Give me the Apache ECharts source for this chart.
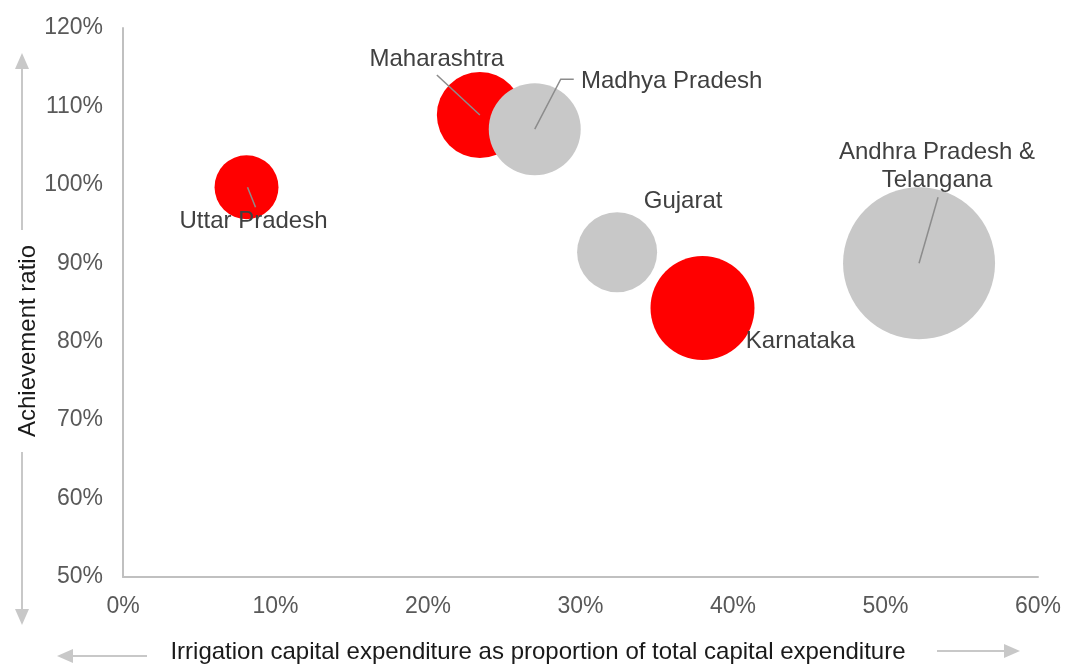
<!DOCTYPE html>
<html>
<head>
<meta charset="utf-8">
<title>Irrigation capex vs achievement ratio</title>
<script src="https://cdn.jsdelivr.net/npm/echarts@6/dist/echarts.min.js"></script>
<style>
  html, body { margin: 0; padding: 0; background: #fff; }
  #chart { width: 1077px; height: 664px; }
</style>
</head>
<body>
<div id="chart"></div>
<script>
// states, x = irrigation capex share (%), y = achievement ratio (%), size = relative bubble size
const states = ['Uttar Pradesh', 'Maharashtra', 'Madhya Pradesh', 'Gujarat', 'Karnataka', 'Andhra Pradesh &\nTelangana']
const capexShare = [8.1, 23.4, 27.0, 32.4, 38.0, 52.2]
const achievement = [99.7, 108.9, 107.1, 91.4, 84.3, 90.0]
const bubbleSize = [17.7, 32.0, 36.6, 27.7, 46.8, 100]
const highlighted = [true, true, false, false, true, false]

const xTicks = ['0%', '10%', '20%', '30%', '40%', '50%', '60%']
const yTicks = ['50%', '60%', '70%', '80%', '90%', '100%', '110%', '120%']

const RED = '#ff0000'
const GREY = '#c8c8c8'
const FONT = 'Liberation Sans, Arial, sans-serif'

// label offsets from bubble centre (px) and leader line points (px, relative to centre)
const labelStyle = {
  'Uttar Pradesh': { offset: [7, 34], leader: [[1, 0], [9, 20]] },
  'Maharashtra': { offset: [-43, -56], leader: [[0, 0], [-43, -40]] },
  'Madhya Pradesh': { offset: [137, -48], leader: [[0, 0], [26, -50], [39, -50]] },
  'Gujarat': { offset: [66, -51], leader: null },
  'Karnataka': { offset: [98, 33], leader: null },
  'Andhra Pradesh &\nTelangana': { offset: [18, -97], leader: [[0, 0], [19, -66]] }
}

const bubbleData = states.map((name, i) => ({
  name,
  value: [capexShare[i], achievement[i], bubbleSize[i]],
  itemStyle: { color: highlighted[i] ? RED : GREY, opacity: 1 },
  label: { offset: labelStyle[name].offset }
}))

const chart = echarts.init(document.getElementById('chart'))

chart.setOption({
  animation: false,
  backgroundColor: '#fff',
  textStyle: { fontFamily: FONT },
  grid: { left: 123, right: 39, top: 28, bottom: 87 },
  xAxis: {
    type: 'value',
    min: 0,
    max: 60,
    interval: 10,
    splitLine: { show: false },
    axisTick: { show: false },
    axisLine: { show: true, lineStyle: { color: '#c0c0c0', width: 2 } },
    axisLabel: {
      margin: 18,
      fontSize: 23,
      color: '#595959',
      formatter: (v) => xTicks[v / 10]
    }
  },
  yAxis: {
    type: 'value',
    min: 50,
    max: 120,
    interval: 10,
    splitLine: { show: false },
    axisTick: { show: false },
    axisLine: { show: true, onZero: false, lineStyle: { color: '#c0c0c0', width: 2 } },
    axisLabel: {
      margin: 20,
      fontSize: 23,
      color: '#595959',
      formatter: (v) => yTicks[(v - 50) / 10]
    }
  },
  series: [
    {
      type: 'scatter',
      data: bubbleData,
      symbolSize: (val) => Math.sqrt(val[2]) * 15.2,
      label: {
        show: true,
        position: 'inside',
        formatter: (p) => p.name,
        fontSize: 24,
        lineHeight: 28,
        color: '#404040',
        align: 'center',
        verticalAlign: 'middle'
      },
      emphasis: { disabled: true },
      z: 2
    }
  ]
})

// leader lines and axis arrows/titles
const graphics = []
states.forEach((name, i) => {
  const leader = labelStyle[name].leader
  if (!leader) return
  const c = chart.convertToPixel({ gridIndex: 0 }, [capexShare[i], achievement[i]])
  graphics.push({
    type: 'polyline',
    z: 10,
    shape: { points: leader.map((p) => [c[0] + p[0], c[1] + p[1]]) },
    style: { stroke: '#8c8c8c', lineWidth: 1.5, fill: null }
  })
})

const arrowColor = '#c8c8c8'
function arrow(x1, y1, x2, y2) {
  const ang = Math.atan2(y2 - y1, x2 - x1)
  const len = 16, half = 7
  const bx = x2 - Math.cos(ang) * len
  const by = y2 - Math.sin(ang) * len
  graphics.push({
    type: 'line',
    shape: { x1, y1, x2: bx, y2: by },
    style: { stroke: arrowColor, lineWidth: 2 }
  })
  graphics.push({
    type: 'polygon',
    shape: {
      points: [
        [x2, y2],
        [bx - Math.sin(ang) * half, by + Math.cos(ang) * half],
        [bx + Math.sin(ang) * half, by - Math.cos(ang) * half]
      ]
    },
    style: { fill: arrowColor }
  })
}
arrow(22, 230, 22, 53)
arrow(22, 452, 22, 625)
arrow(147, 656, 57, 656)
arrow(937, 651, 1020, 651)

graphics.push({
  type: 'text',
  x: 28,
  y: 341,
  rotation: Math.PI / 2,
  style: {
    text: 'Achievement ratio',
    font: '24px ' + FONT,
    fill: '#1a1a1a',
    align: 'center',
    verticalAlign: 'middle'
  }
})
graphics.push({
  type: 'text',
  x: 538,
  y: 652,
  style: {
    text: 'Irrigation capital expenditure as proportion of total capital expenditure',
    font: '24px ' + FONT,
    fill: '#1a1a1a',
    align: 'center',
    verticalAlign: 'middle'
  }
})

chart.setOption({ graphic: graphics })
</script>
</body>
</html>
